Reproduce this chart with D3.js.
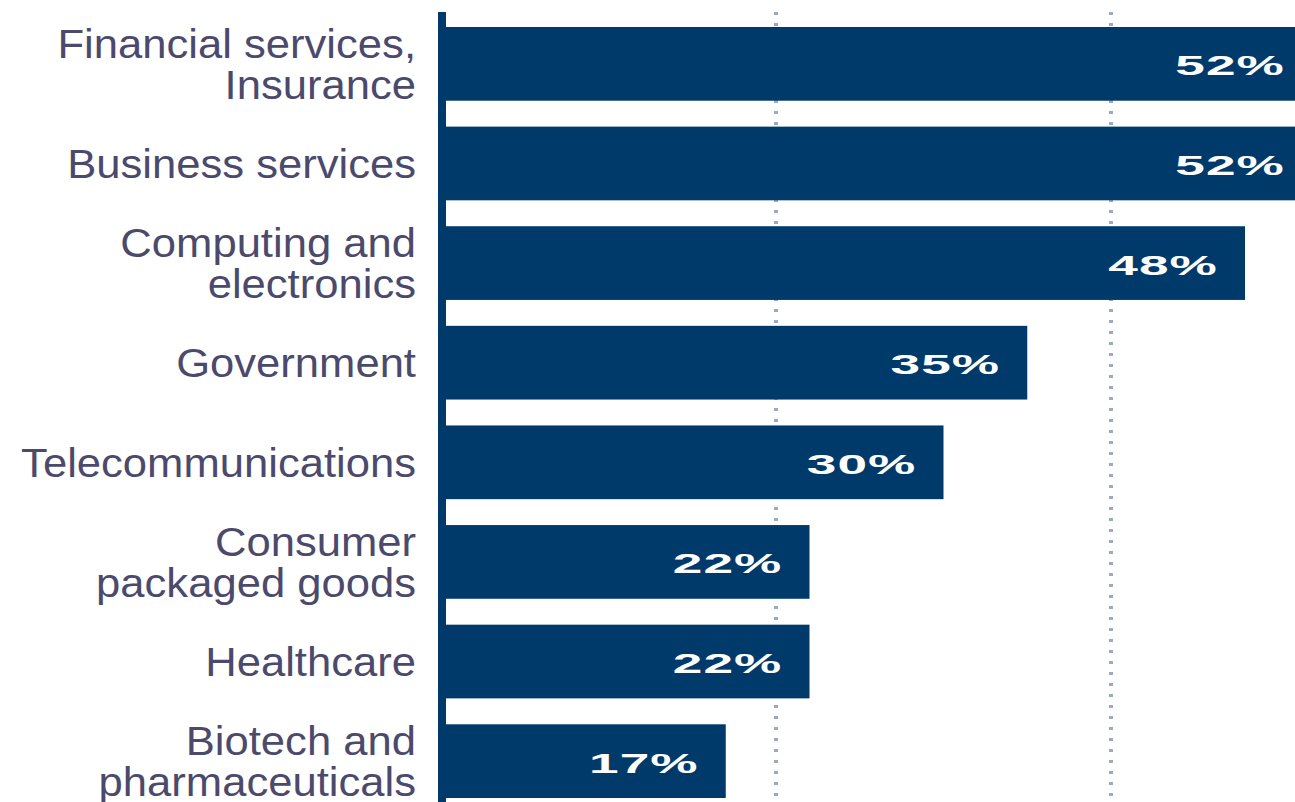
<!DOCTYPE html>
<html><head><meta charset="utf-8">
<script src="https://cdn.jsdelivr.net/npm/d3@7"></script>
<style>
html,body{margin:0;padding:0;background:#fff;overflow:hidden;}
svg{display:block;}
</style></head>
<body>
<svg id="chart" width="1295" height="802"></svg>
<script>
const categories = [
  ["Financial services,", "Insurance"],
  ["Business services"],
  ["Computing and", "electronics"],
  ["Government"],
  ["Telecommunications"],
  ["Consumer", "packaged goods"],
  ["Healthcare"],
  ["Biotech and", "pharmaceuticals"]
];
const values = [52, 52, 48, 35, 30, 22, 22, 17];
const gridTicks = [20, 40];

const barColor = "#003a6b";
const svg = d3.select("#chart");
const x = d3.scaleLinear().domain([0, 48]).range([441, 1245]);
const y = d3.scaleBand().domain(d3.range(values.length)).range([27, 798]).paddingInner(0.26).paddingOuter(0);

// dotted gridlines
svg.append("g").selectAll("line").data(gridTicks).join("line")
  .attr("x1", d => x(d)).attr("x2", d => x(d))
  .attr("y1", 12).attr("y2", 802)
  .attr("stroke", "#9aabbf").attr("stroke-width", 4)
  .attr("stroke-dasharray", "3,8");

// bars
svg.append("g").selectAll("rect").data(values).join("rect")
  .attr("x", x(0)).attr("y", (d, i) => y(i))
  .attr("width", d => x(d) - x(0)).attr("height", y.bandwidth())
  .attr("fill", barColor);

// axis line
svg.append("rect").attr("x", 438).attr("y", 12).attr("width", 8).attr("height", 790).attr("fill", barColor);

// value labels
svg.append("g").selectAll("g").data(values).join("g")
  .attr("transform", (d, i) => `translate(${x(d) - 82},${y(i) + y.bandwidth() / 2 + 11.5}) scale(1.9,1)`)
  .append("text")
  .attr("text-anchor", "middle")
  .attr("font-family", "Liberation Sans, Arial, sans-serif")
  .attr("font-weight", "bold")
  .attr("font-size", 28)
  .attr("letter-spacing", 0.5)
  .attr("fill", "#ffffff")
  .text(d => d + "%");

// category labels
const lab = svg.append("g").selectAll("g").data(categories).join("g")
  .attr("transform", (d, i) => {
    const c = y(i) + y.bandwidth() / 2;
    const base = c + 14.5 - (d.length - 1) * 20.5;
    return `translate(416,${base}) scale(1.09,1)`;
  });
lab.append("text")
  .attr("text-anchor", "end")
  .attr("font-family", "Liberation Sans, Arial, sans-serif")
  .attr("font-size", 40)
  .attr("fill", "#4b4a6c")
  .selectAll("tspan").data(d => d).join("tspan")
  .attr("x", 0).attr("dy", (d, i) => i === 0 ? 0 : 41)
  .text(d => d);
</script>
</body></html>
